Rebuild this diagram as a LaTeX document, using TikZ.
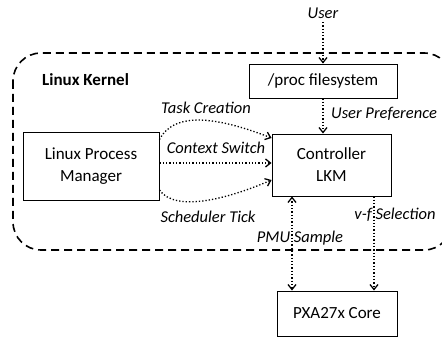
\documentclass[tikz,border=0pt]{standalone}
\usepackage{fontspec}
\setmainfont{Carlito}
\usetikzlibrary{arrows.meta}
\begin{document}
\begin{tikzpicture}[x=1pt,y=-1pt,
  box/.style={draw,line width=0.9pt,inner sep=0pt,font=\fontsize{17}{20}\selectfont,align=center},
  lbl/.style={font=\fontsize{16.5}{19}\selectfont\itshape,inner sep=0pt},
  con/.style={line width=1.3pt,dotted,-{Straight Barb[length=5pt,width=8pt]}},
  dcon/.style={line width=1.3pt,dotted,{Straight Barb[length=5pt,width=8pt]}-{Straight Barb[length=5pt,width=8pt]}}]
\useasboundingbox (0,0) rectangle (442,339);
\draw[line width=1.6pt,dash pattern=on 8pt off 5pt,rounded corners=28pt] (13,53) rectangle (452,250);
\node[font=\fontsize{17}{20}\selectfont\bfseries,anchor=west,inner sep=0pt] (lk) at (42,80) {Linux Kernel};
\node[box,minimum width=148pt,minimum height=34pt] (proc) at (323,81) {/proc filesystem};
\node[box,minimum width=136pt,minimum height=68pt] (lpm) at (91,166) {Linux Process\\[2pt]Manager};
\node[box,minimum width=119pt,minimum height=62pt] (ctl) at (331.5,165) {Controller\\[2pt]LKM};
\node[box,minimum width=120pt,minimum height=45pt] (pxa) at (337,313.5) {PXA27x Core};
\node[lbl] (user) at (323,13) {User};
\coordinate (uend) at (323,22);
\draw[con] (uend) -- (proc.north -| uend);
\draw[con] (proc.south -| uend) -- (ctl.north -| uend);
\node[lbl,anchor=west] (up) at (331,114) {User Preference};
\draw[con] (lpm.east |- 0,163) -- (ctl.west |- 0,163);
\node[lbl] (cs) at (216,148) {Context Switch};
\draw[con] (lpm.north east) ++(0,8) coordinate (tcs) .. controls (175,110) and (220,118) .. (ctl.west |- 0,138);
\node[lbl] (tc) at (206,108) {Task Creation};
\draw[con] (lpm.east |- 0,190) .. controls (175,212) and (225,200) .. (ctl.west |- 0,180);
\node[lbl] (st) at (208,217) {Scheduler Tick};
\draw[dcon] (ctl.south -| 292,0) -- (pxa.north -| 292,0);
\draw[con] (ctl.south -| 374,0) -- (pxa.north -| 374,0);
\node[lbl] (vf) at (395,215) {v-f Selection};
\node[lbl] (pmu) at (300,238) {PMU Sample};
\end{tikzpicture}
\end{document}
